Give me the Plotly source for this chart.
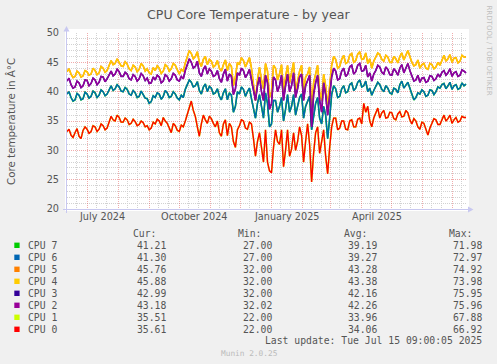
import plotly.graph_objects as go
import pandas as pd

# ---------------- data (one value every 2 days) ----------------
START = "2024-06-11"
END = "2025-07-15"
day_offsets = list(range(0, 400, 2))
dates = [pd.Timestamp(START) + pd.Timedelta(days=d) for d in day_offsets]

cpu4 = [43.4, 43.9, 43.0, 42.4, 42.6, 43.5, 43.2, 42.5, 42.7, 43.6,
        43.4, 42.8, 43.0, 44.0, 43.6, 42.9, 43.2, 44.3, 44.0, 43.3,
        43.6, 44.6, 45.3, 44.6, 44.8, 45.6, 45.0, 44.4, 44.3, 45.1,
        44.7, 43.9, 43.6, 44.5, 44.2, 43.4, 43.8, 44.8, 44.4, 43.5,
        43.9, 43.2, 43.0, 44.1, 43.6, 44.4, 44.0, 43.1, 43.5, 44.6,
        44.3, 43.5, 43.9, 44.8, 44.5, 43.6, 43.0, 43.8, 43.5, 44.9,
        45.8, 47.0, 46.5, 45.6, 46.0, 46.8, 45.0, 44.3, 45.5, 46.0,
        44.6, 45.5, 45.2, 44.2, 44.5, 45.3, 44.0, 43.5, 44.6, 45.4,
        43.6, 44.8, 44.3, 41.0, 42.5, 45.0, 44.6, 45.8, 45.3, 44.2,
        45.0, 45.8, 44.0, 41.5, 38.5, 42.0, 44.2, 42.0, 40.5, 44.8,
        43.5, 39.0, 40.0, 44.5, 44.0, 42.0, 43.0, 44.6, 40.0, 42.5,
        44.5, 41.5, 43.0, 45.0, 40.0, 42.0, 43.5, 44.5, 40.0, 42.5,
        43.0, 44.2, 37.0, 41.5, 43.0, 44.5, 40.0, 38.5, 43.0, 41.0,
        37.5, 40.5, 44.5, 46.0, 45.5, 44.0, 44.3, 45.5, 46.2, 44.8,
        45.0, 46.2, 46.5, 45.0, 45.3, 46.4, 46.8, 45.5, 45.6, 46.6,
        44.8, 45.6, 44.0, 45.2, 45.8, 46.6, 46.3, 45.5, 45.2, 46.2,
        45.9, 45.0, 45.0, 46.0, 45.6, 44.9, 46.0, 46.6, 45.4, 46.2,
        47.0, 46.0, 45.0, 44.4, 44.6, 45.4, 44.0, 44.6, 44.8, 44.0,
        43.8, 44.8, 44.6, 43.9, 44.2, 45.0, 44.5, 45.3, 46.2, 45.2,
        45.6, 46.3, 45.0, 45.7, 45.8, 44.9, 45.2, 46.2, 45.9, 45.9]
cpu2 = [41.8, 42.3, 41.2, 40.6, 40.8, 41.8, 41.5, 40.7, 41.0, 42.0,
        41.9, 41.0, 41.4, 42.3, 42.0, 41.2, 41.6, 42.6, 42.5, 41.7,
        42.2, 43.0, 43.5, 42.7, 43.0, 43.8, 43.4, 42.6, 42.6, 43.3,
        43.0, 42.2, 42.0, 42.9, 42.6, 41.8, 42.2, 43.1, 42.7, 41.9,
        42.3, 41.4, 41.5, 42.5, 42.0, 42.8, 42.5, 41.5, 41.8, 42.9,
        42.6, 41.8, 42.2, 43.1, 42.8, 42.0, 41.8, 42.6, 42.2, 43.6,
        44.5, 45.6, 45.0, 44.0, 44.3, 45.2, 43.2, 42.6, 43.8, 44.4,
        43.0, 43.9, 43.5, 42.6, 42.8, 43.6, 42.2, 41.6, 43.0, 43.8,
        41.8, 43.0, 42.6, 39.5, 40.5, 43.2, 42.8, 44.0, 43.6, 42.4,
        43.0, 43.8, 42.0, 40.0, 38.5, 41.0, 42.5, 40.0, 38.5, 42.8,
        41.5, 37.0, 38.0, 42.5, 42.0, 40.0, 41.0, 42.8, 38.5, 41.0,
        43.0, 40.0, 41.0, 43.2, 39.0, 40.5, 42.5, 43.0, 38.5, 41.0,
        42.0, 42.8, 34.0, 39.5, 41.5, 42.8, 38.5, 36.5, 41.5, 39.5,
        36.0, 39.0, 42.5, 44.0, 43.5, 42.0, 42.2, 43.5, 44.0, 42.6,
        43.0, 44.2, 44.5, 43.0, 43.4, 44.5, 44.8, 43.5, 43.6, 44.5,
        42.5, 43.2, 41.8, 43.0, 43.6, 44.5, 44.2, 43.3, 43.0, 44.2,
        43.8, 42.9, 42.8, 43.9, 43.5, 42.8, 44.0, 44.6, 43.2, 44.0,
        44.8, 43.6, 42.5, 41.8, 42.0, 42.8, 41.6, 42.3, 42.4, 41.6,
        41.8, 42.7, 42.6, 41.9, 42.2, 43.0, 42.5, 43.3, 43.6, 42.8,
        43.2, 43.9, 42.6, 43.2, 43.4, 42.6, 42.8, 43.7, 43.5, 43.2]
cpu6 = [39.6, 40.0, 39.0, 38.4, 38.6, 39.7, 39.4, 38.6, 38.8, 39.9,
        39.6, 38.9, 39.2, 40.1, 39.8, 39.0, 39.4, 40.3, 40.0, 39.3,
        39.6, 40.4, 41.0, 40.2, 40.5, 41.2, 40.8, 40.1, 40.0, 40.7,
        40.4, 39.6, 39.4, 40.2, 39.8, 39.0, 39.2, 40.1, 39.6, 38.9,
        38.8, 38.0, 38.3, 39.3, 39.0, 39.8, 39.6, 38.7, 39.2, 40.2,
        39.8, 39.0, 39.2, 40.0, 39.6, 38.9, 38.6, 39.4, 39.0, 40.4,
        41.2, 42.0, 41.6, 40.8, 41.0, 41.7, 40.2, 39.6, 40.8, 41.3,
        40.0, 40.9, 40.6, 39.6, 39.8, 40.5, 39.2, 38.6, 39.8, 40.5,
        38.6, 39.8, 39.4, 36.5, 37.5, 40.0, 39.6, 40.8, 40.4, 39.2,
        40.0, 40.6, 38.8, 37.0, 35.5, 38.0, 39.5, 37.5, 35.5, 39.8,
        38.0, 34.0, 34.5, 38.5, 38.5, 36.5, 37.5, 39.0, 35.0, 37.0,
        39.5, 36.5, 37.5, 39.5, 36.0, 37.5, 39.0, 39.6, 35.5, 37.5,
        38.5, 39.2, 33.5, 36.0, 38.0, 39.0, 35.5, 34.5, 37.5, 36.0,
        32.0, 35.5, 39.5, 41.0, 40.5, 39.0, 39.2, 40.5, 41.0, 39.8,
        40.0, 41.2, 41.5, 40.2, 40.6, 41.6, 42.0, 40.8, 41.0, 41.8,
        40.0, 40.6, 39.4, 40.2, 40.8, 41.6, 41.2, 40.4, 40.0, 41.0,
        40.6, 39.8, 39.6, 40.6, 40.4, 39.8, 41.2, 41.8, 40.6, 41.2,
        41.6, 40.6, 39.4, 38.6, 39.0, 39.8, 39.6, 40.3, 40.0, 39.2,
        39.4, 40.3, 40.2, 39.5, 40.0, 40.8, 40.6, 41.2, 41.4, 40.5,
        41.0, 41.6, 40.4, 41.0, 41.2, 40.4, 40.6, 41.5, 41.0, 41.3]
cpu0 = [33.2, 33.6, 32.6, 32.2, 33.0, 33.7, 32.4, 32.0, 33.4, 34.0,
        33.6, 32.9, 33.2, 34.2, 34.0, 33.2, 33.6, 34.5, 34.2, 33.5,
        33.8, 34.8, 35.8, 35.2, 35.0, 36.0, 35.6, 34.8, 34.8, 35.5,
        35.2, 34.4, 34.6, 35.3, 34.9, 34.2, 34.4, 35.0, 34.7, 34.0,
        34.2, 33.5, 33.8, 34.8, 34.5, 35.3, 35.0, 34.2, 35.6, 35.0,
        34.6, 33.8, 33.0, 34.6, 34.2, 33.4, 33.2, 34.3, 34.0, 35.0,
        36.2, 37.0, 38.4, 36.8, 35.8, 34.0, 32.4, 34.5, 36.0, 35.2,
        34.6, 35.8, 35.4, 34.6, 34.0, 35.0, 33.0, 32.4, 34.5, 35.2,
        32.5, 34.6, 34.0, 31.5, 30.5, 33.5, 34.2, 35.2, 35.0, 33.8,
        33.6, 34.8, 34.5, 32.0, 29.0, 31.5, 33.0, 30.5, 28.0, 33.5,
        28.0, 26.5, 26.2, 30.5, 33.5, 31.5, 31.0, 33.5, 27.2, 30.0,
        33.5, 29.0, 30.2, 33.0, 30.0, 31.5, 34.0, 32.5, 28.0, 31.5,
        34.5, 31.0, 24.6, 29.5, 33.0, 34.0, 29.5, 31.5, 33.5, 29.0,
        26.0, 30.5, 34.0, 35.5, 35.5, 33.5, 33.8, 35.0, 35.0, 33.6,
        33.5, 35.0, 35.2, 34.0, 34.0, 35.3, 35.5, 34.5, 38.0, 36.5,
        37.5, 35.0, 34.0, 35.5, 36.5, 37.2, 35.5, 36.4, 36.8, 35.5,
        35.6, 36.5, 36.4, 35.4, 35.2, 36.2, 36.6, 35.7, 35.8, 36.8,
        36.4, 35.2, 34.5, 35.4, 35.0, 34.0, 33.6, 34.8, 34.6, 33.5,
        32.6, 33.8, 34.5, 35.4, 35.2, 34.4, 34.4, 35.2, 36.0, 35.0,
        35.4, 36.0, 34.6, 35.2, 35.6, 34.8, 35.0, 35.8, 35.6, 35.6]
# sibling cores run on top of each other in the picture
cpu5 = cpu4
cpu3 = cpu2
cpu7 = cpu6
cpu1 = cpu0

names = ["CPU 7", "CPU 6", "CPU 5", "CPU 4", "CPU 3", "CPU 2", "CPU 1", "CPU 0"]
colors = ["#00CC00", "#0066B3", "#FF8000", "#FFCC00", "#330099", "#990099", "#CCFF00", "#FF0000"]
series = [cpu7, cpu6, cpu5, cpu4, cpu3, cpu2, cpu1, cpu0]
cur = ["41.21", "41.30", "45.76", "45.88", "42.99", "43.18", "35.51", "35.61"]
mins = ["27.00", "27.00", "32.00", "32.00", "32.00", "32.02", "22.00", "22.00"]
avgs = ["39.19", "39.27", "43.28", "43.38", "42.16", "42.26", "33.96", "34.06"]
maxs = ["71.98", "72.97", "74.92", "73.98", "75.95", "75.96", "67.88", "66.92"]

month_starts = ["2024-07-01", "2024-08-01", "2024-09-01", "2024-10-01", "2024-11-01", "2024-12-01",
                "2025-01-01", "2025-02-01", "2025-03-01", "2025-04-01", "2025-05-01", "2025-06-01", "2025-07-01"]
minor_days = ["2024-06-20"] + [m[:8] + d for m in month_starts for d in ("10", "20")]
label_dates = ["2024-07-16", "2024-10-16", "2025-01-16", "2025-04-16"]
label_text = ["July 2024", "October 2024", "January 2025", "April 2025"]

# ---------------- layout helpers ----------------
W, H = 497, 364
PL, PT, PW, PH = 67, 33, 400, 176
def px(x):
    return (x - PL) / PW
def py(y):
    return (PT + PH - y) / PH

TXT = "#555555"
PINK = "rgba(225,90,90,0.5)"
GRAY = "#D2D2D2"
AXC = "#C8C8F0"
MONO = "DejaVu Sans Mono"
SANS = "DejaVu Sans"

fig = go.Figure()
for i, (n, v, c) in enumerate(zip(names, series, colors)):
    under = i % 2 == 0
    fig.add_trace(go.Scatter(x=dates, y=v, mode="lines", name=n,
                             line=dict(color=c, width=1.6 if under else 1.35),
                             showlegend=False, hoverinfo="skip"))

def note(text, x, y, size, color=TXT, family=SANS, xanchor="center", xref="paper", angle=0):
    return dict(text=text, x=x, y=y, xref=xref, yref="paper", xanchor=xanchor, yanchor="middle",
                textangle=angle, showarrow=False, font=dict(family=family, size=size, color=color))

ann = []
ann.append(note("CPU Core Temperature - by year", px(248), py(14), 12.6))
ann.append(note("Core temperature in Â°C", px(11), py(121), 10.3, angle=-90))
ann.append(note("RRDTOOL / TOBI OETIKER", px(488.5), py(50), 7, color="#BEBEBE", angle=90))
for d, t in zip(label_dates, label_text):
    ann.append(note(t, d, py(216), 9.7, xref="x"))

for h, xs in zip(["Cur:", "Min:", "Avg:", "Max:"], [131.7, 237.3, 342.7, 447.7]):
    ann.append(note(h, px(xs - 1), py(233.5), 9.75, family=MONO, xanchor="left"))
shapes = []
for r, n in enumerate(names):
    yc = 245.3 + 12 * r
    ann.append(note(n, px(25.7), py(yc), 9.75, family=MONO, xanchor="left"))
    for col, xe in zip([cur, mins, avgs, maxs], [166.7, 273.3, 378.3, 483.3]):
        ann.append(note(col[r], px(xe + 1), py(yc), 9.75, family=MONO, xanchor="right"))
    shapes.append(dict(type="rect", xref="paper", yref="paper", x0=px(14.3), x1=px(19.6),
                       y0=py(yc - 2.7), y1=py(yc + 2.7), fillcolor=colors[r], line=dict(width=0)))
ann.append(note("Last update: Tue Jul 15 09:00:05 2025", px(484.3), py(340.5), 9.75, family=MONO, xanchor="right"))
ann.append(note("Munin 2.0.25", px(249), py(353), 7.8, color="#BBBBBB", family=MONO))

# white canvas and axes
shapes.insert(0, dict(type="rect", xref="paper", yref="paper", x0=px(65), x1=px(469), y0=py(211), y1=py(29),
                      fillcolor="white", line=dict(width=0), layer="below"))
shapes.append(dict(type="line", xref="paper", yref="paper", x0=px(63), x1=px(469), y0=py(209.5), y1=py(209.5),
                   line=dict(color=AXC, width=1), layer="between"))
shapes.append(dict(type="line", xref="paper", yref="paper", x0=px(66.5), x1=px(66.5), y0=py(213), y1=py(30),
                   line=dict(color=AXC, width=1), layer="between"))
shapes.append(dict(type="path", xref="paper", yref="paper",
                   path=f"M {px(468)},{py(206.5)} L {px(473.5)},{py(209.5)} L {px(468)},{py(212.5)} Z",
                   fillcolor=AXC, line=dict(width=0), layer="between"))
shapes.append(dict(type="path", xref="paper", yref="paper",
                   path=f"M {px(63.5)},{py(31.5)} L {px(66.5)},{py(26)} L {px(69.5)},{py(31.5)} Z",
                   fillcolor=AXC, line=dict(width=0), layer="between"))

fig.update_layout(
    width=W, height=H,
    margin=dict(l=PL, r=W - PL - PW, t=PT, b=H - PT - PH),
    paper_bgcolor="#F0F0F0", plot_bgcolor="white",
    annotations=ann, shapes=shapes,
    xaxis=dict(type="date", range=[START, END], tickmode="array", tickvals=month_starts,
               showticklabels=False, ticks="", showgrid=True, gridcolor=PINK, griddash="1px,1px",
               gridwidth=1, zeroline=False, showline=False,
               minor=dict(tickmode="array", tickvals=minor_days, showgrid=True, gridcolor=GRAY,
                          griddash="1px,1px", gridwidth=1, ticks="")),
    yaxis=dict(range=[20, 50], tickmode="linear", tick0=20, dtick=5, ticks="",
               showgrid=True, gridcolor=PINK, griddash="1px,1px", gridwidth=1,
               zeroline=False, showline=False, ticklabelstandoff=7,
               tickfont=dict(family=SANS, size=9.7, color=TXT),
               minor=dict(dtick=1, showgrid=True, gridcolor=GRAY, griddash="1px,1px", gridwidth=1)),
)

fig.write_html("out.html", include_plotlyjs=True, config={"displayModeBar": False},
               post_script="document.body.style.margin='0';document.body.style.padding='0';"
                           "document.body.style.overflow='hidden';")
